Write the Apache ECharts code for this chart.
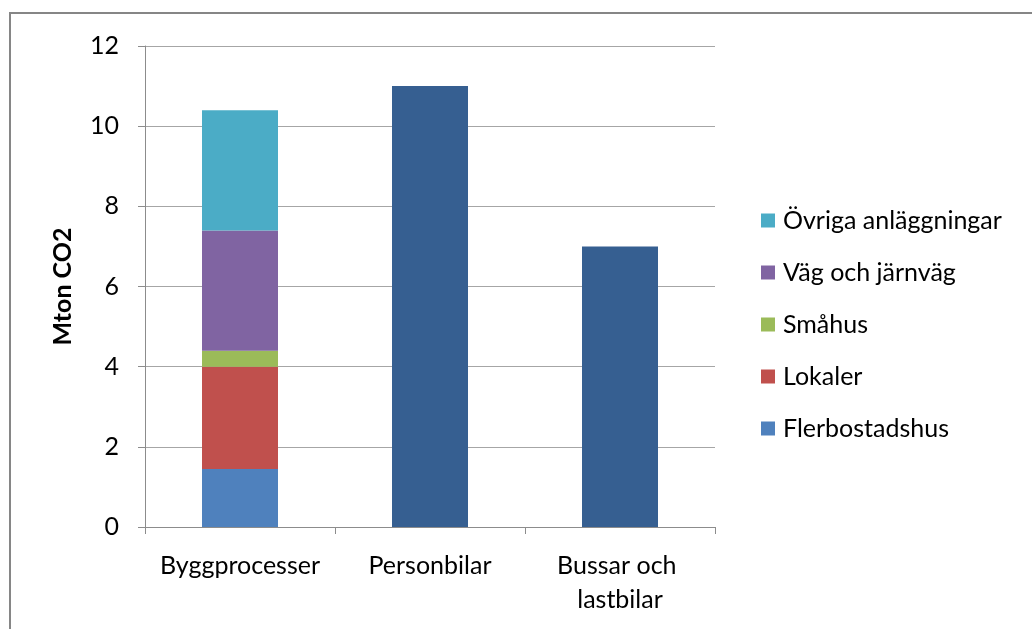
<!DOCTYPE html>
<html>
<head>
<meta charset="utf-8">
<script src="https://cdn.jsdelivr.net/npm/echarts@6/dist/echarts.min.js"></script>
<style>html,body{margin:0;padding:0;background:#fff}#c{width:1032px;height:629px}</style>
</head>
<body>
<div id="c"></div>
<script>
const categories = ['Byggprocesser', 'Personbilar', 'Bussar och lastbilar'];
const flerbostadshus = [1.45, null, null];
const lokaler = [2.55, null, null];
const smahus = [0.4, null, null];
const vagJarnvag = [3.0, null, null];
const ovriga = [3.0, null, null];
const totals = [null, 11.0, 7.0];
const legendOrder = ['Övriga anläggningar', 'Väg och järnväg', 'Småhus', 'Lokaler', 'Flerbostadshus'];
const yTicks = [0, 2, 4, 6, 8, 10, 12];

const font = 'Lato, "Open Sans", sans-serif';
const chart = echarts.init(document.getElementById('c'), null, {renderer: 'canvas'});
function s(name, data, color) {
  return {name, type: 'bar', stack: 'a', data, barWidth: '40%', itemStyle: {color}};
}
chart.setOption({
  animation: false,
  graphic: [{type: 'rect', shape: {x: 10, y: 13, width: 1100, height: 700}, style: {fill: 'none', stroke: '#868686', lineWidth: 2}}],
  grid: {left: 145, top: 46, width: 570, height: 481, containLabel: false},
  legend: {
    data: legendOrder, orient: 'vertical', left: 756, top: 203, itemGap: 27,
    itemWidth: 14, itemHeight: 14, icon: 'rect',
    textStyle: {fontFamily: font, fontSize: 25, color: '#000', padding: [0, 0, 0, 3]}
  },
  xAxis: {
    type: 'category', data: categories,
    axisLine: {lineStyle: {color: '#8c8c8c', width: 1}},
    axisTick: {show: true, length: 7, lineStyle: {color: '#8c8c8c'}},
    axisLabel: {interval: 0, fontFamily: font, fontSize: 25, color: '#000', margin: 22, width: 175, overflow: 'break', lineHeight: 34}
  },
  yAxis: {
    type: 'value', min: yTicks[0], max: yTicks[yTicks.length - 1], interval: 2,
    name: 'Mton CO2', nameLocation: 'middle', nameGap: 70, nameRotate: 90,
    nameTextStyle: {fontFamily: font, fontSize: 25, fontWeight: 'bold', color: '#000'},
    axisLine: {show: true, lineStyle: {color: '#8c8c8c'}},
    axisTick: {show: true, length: 7, lineStyle: {color: '#8c8c8c'}},
    splitLine: {lineStyle: {color: '#a6a6a6'}},
    axisLabel: {fontFamily: font, fontSize: 25, color: '#000', margin: 26}
  },
  series: [
    s('Flerbostadshus', flerbostadshus, '#4F81BD'),
    s('Lokaler', lokaler, '#C0504D'),
    s('Småhus', smahus, '#9BBB59'),
    s('Väg och järnväg', vagJarnvag, '#8064A2'),
    s('Övriga anläggningar', ovriga, '#4BACC6'),
    s('Totalt', totals, '#365F91')
  ]
});
</script>
</body>
</html>
